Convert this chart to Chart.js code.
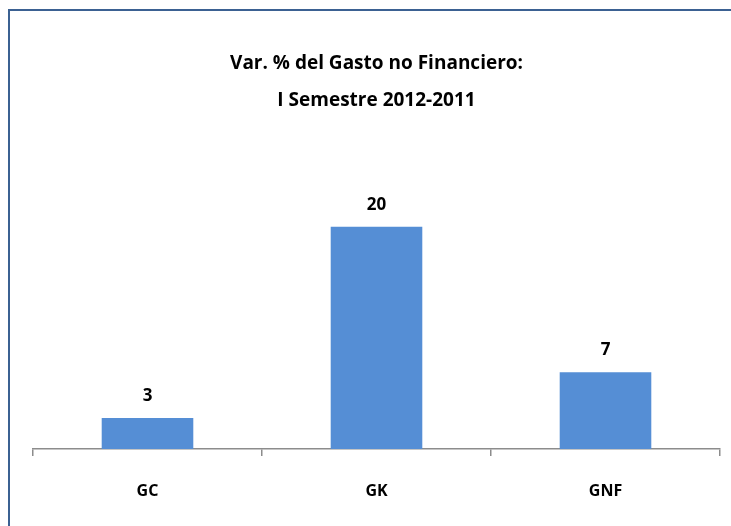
<!DOCTYPE html>
<html>
<head>
<meta charset="utf-8">
<script src="https://cdn.jsdelivr.net/npm/chart.js@4/dist/chart.umd.min.js"></script>
<style>
  html, body { margin: 0; padding: 0; background: #fff; }
  #wrap { position: relative; width: 731px; height: 526px; overflow: hidden; }
  #frame { position: absolute; left: 8px; top: 9px; width: 760px; height: 560px;
           border-left: 2px solid #3B6192; border-top: 2px solid #3B6192; }
  canvas { position: absolute; left: 0; top: 0; }
</style>
</head>
<body>
<div id="wrap">
  <div id="frame"></div>
  <canvas id="gastoChart" width="731" height="526"></canvas>
</div>
<script>
const categories = ["GC", "GK", "GNF"];
const varPct = [2.8, 20.0, 6.9];
const titleLines = ["Var. % del Gasto no Financiero:", "I Semestre 2012-2011"];

const fontFamily = "'Liberation Sans Narrow', 'Open Sans', sans-serif";

// value labels above bars
const barLabels = {
    id: 'barLabels',
    afterDatasetsDraw(chart) {
        const ctx = chart.ctx;
        const meta = chart.getDatasetMeta(0);
        ctx.save();
        ctx.font = "bold 17px " + fontFamily;
        ctx.fillStyle = "#000";
        ctx.textAlign = "center";
        ctx.textBaseline = "middle";
        meta.data.forEach(function (bar, i) {
            ctx.fillText(Math.round(varPct[i]).toString(), bar.x, bar.y - 22);
        });
        ctx.restore();
    }
};

new Chart(document.getElementById("gastoChart"), {
    type: "bar",
    data: {
        labels: categories,
        datasets: [{
            label: "Var. %",
            data: varPct,
            backgroundColor: "#558ED5",
            borderWidth: 0,
            categoryPercentage: 0.4,
            barPercentage: 1.0,
        }],
    },
    options: {
        responsive: false,
        animation: false,
        layout: { padding: { left: 33, right: 11, top: 0, bottom: 0 } },
        plugins: {
            legend: { display: false },
            tooltip: { enabled: false },
            title: {
                display: true,
                fullSize: false,
                text: titleLines,
                color: "#000",
                font: { family: fontFamily, size: 19, weight: "bold", lineHeight: 1.9 },
                padding: { top: 46, bottom: 42 },
            },
        },
        scales: {
            y: { display: false, min: 0, max: 26 },
            x: {
                grid: { drawOnChartArea: false, drawTicks: true, tickLength: 7, color: "#8C8C8C", lineWidth: 1.5 },
                border: { display: true, color: "#8C8C8C", width: 1.5 },
                ticks: { color: "#000", padding: 27, font: { family: fontFamily, size: 16, weight: "bold", lineHeight: 1.0 } },
            },
        },
    },
    plugins: [barLabels],
});
</script>
</body>
</html>
